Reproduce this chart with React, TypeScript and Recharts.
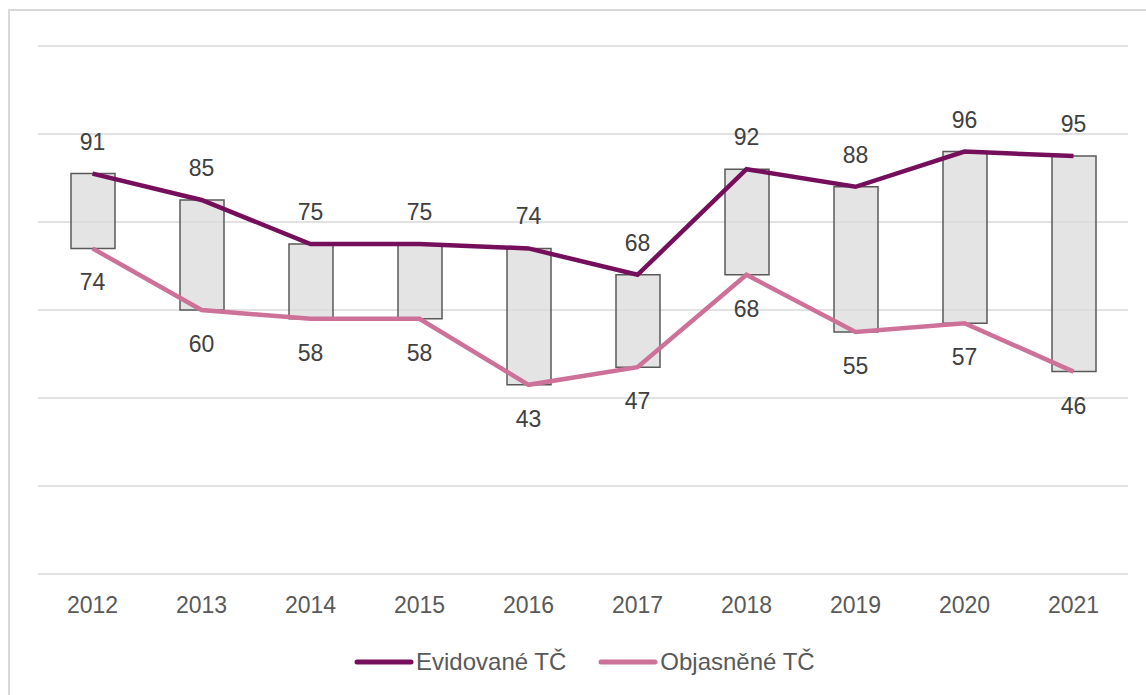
import { ComposedChart, Line, Bar, XAxis, YAxis, CartesianGrid } from 'recharts';

const years = ['2012', '2013', '2014', '2015', '2016', '2017', '2018', '2019', '2020', '2021'];
const evidovane = [91, 85, 75, 75, 74, 68, 92, 88, 96, 95];
const objasnene = [74, 60, 58, 58, 43, 47, 68, 55, 57, 46];
const yTicks = [0, 20, 40, 60, 80, 100, 120];

const EVI_COLOR = '#760f5b';
const OBJ_COLOR = '#cd7199';
const FONT = '"Liberation Sans", Arial, sans-serif';

const data = years.map((year, i) => ({
  year,
  evi: evidovane[i],
  obj: objasnene[i],
  range: [objasnene[i], evidovane[i]],
}));

function makeLabel(dy: number) {
  return (props: any) => {
    const { x, y, value } = props;
    return (
      <text
        x={x}
        y={y + dy}
        textAnchor="middle"
        dominantBaseline="central"
        fill="#404040"
        style={{ fontSize: 23, fontFamily: FONT }}
      >
        {value}
      </text>
    );
  };
}

function LegendItem({ color, label }: { color: string; label: string }) {
  return (
    <div style={{ display: 'flex', alignItems: 'center' }}>
      <svg width={60} height={10}>
        <line x1={3} y1={5} x2={57} y2={5} stroke={color} strokeWidth={5} strokeLinecap="round" />
      </svg>
      <span style={{ marginLeft: 2, fontSize: 24, color: '#595959', fontFamily: FONT }}>{label}</span>
    </div>
  );
}

export default function App() {
  return (
    <div style={{ position: 'fixed', left: 0, top: 0, width: 1146, height: 695, overflow: 'hidden', background: '#fff' }}>
      <div
        style={{
          position: 'absolute',
          left: 8,
          top: 9,
          width: 1200,
          height: 720,
          border: '2px solid #d9d9d9',
        }}
      />
      <div style={{ position: 'absolute', left: 0, top: 0 }}>
        <ComposedChart
          width={1146}
          height={695}
          data={data}
          margin={{ top: 46, right: 18, left: 38, bottom: 0 }}
        >
          <CartesianGrid vertical={false} stroke="#d9d9d9" strokeWidth={1.5} />
          <XAxis
            dataKey="year"
            axisLine={false}
            tickLine={false}
            height={121}
            tickMargin={17}
            tick={{ fill: '#595959', fontSize: 23, fontFamily: FONT }}
          />
          <YAxis hide domain={[0, 120]} ticks={yTicks} />
          <Line
            dataKey="obj"
            stroke={OBJ_COLOR}
            strokeWidth={4.5}
            dot={false}
            activeDot={false}
            isAnimationActive={false}
            label={makeLabel(34)}
          />
          <Line
            dataKey="evi"
            stroke={EVI_COLOR}
            strokeWidth={4.5}
            dot={false}
            activeDot={false}
            isAnimationActive={false}
            label={makeLabel(-32)}
          />
          <Bar
            dataKey="range"
            barSize={44}
            fill="#d9d9d9"
            fillOpacity={0.72}
            stroke="#595959"
            strokeWidth={1.5}
            isAnimationActive={false}
          />
        </ComposedChart>
      </div>
      <div style={{ position: 'absolute', left: 354, top: 648, display: 'flex', alignItems: 'center', gap: 32 }}>
        <LegendItem color={EVI_COLOR} label="Evidované TČ" />
        <LegendItem color={OBJ_COLOR} label="Objasněné TČ" />
      </div>
    </div>
  );
}
